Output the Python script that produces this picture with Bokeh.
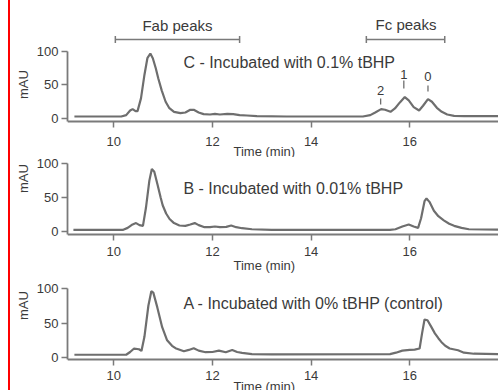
from bokeh.plotting import figure
from bokeh.models import Label, Range1d, FixedTicker, Whisker, TeeHead, Title
from bokeh.layouts import column
from bokeh.embed import file_html
from bokeh.resources import INLINE

# ---------------- data ----------------
x_ticks = [10, 12, 14, 16]
y_ticks = [0, 50, 100]

time_c = [9.2, 10.15, 10.25, 10.33, 10.38, 10.44, 10.48, 10.55, 10.62, 10.68, 10.74, 10.79,
          10.85, 10.90, 10.97, 11.05, 11.12, 11.22, 11.35, 11.45, 11.55, 11.62, 11.72, 11.82,
          11.95, 12.05, 12.15, 12.30, 12.42, 12.55, 12.70, 12.90, 13.5, 14.5, 15.05, 15.2,
          15.3, 15.42, 15.5, 15.61, 15.7, 15.8, 15.9, 15.98, 16.08, 16.19, 16.27, 16.37,
          16.45, 16.55, 16.65, 16.76, 16.9, 17.1, 17.8]
mau_c = [3, 3, 5, 12, 14, 11, 11, 30, 65, 90, 97, 90,
         75, 60, 42, 25, 16, 10, 8, 9, 13, 13, 9, 6.5,
         6, 7, 6, 7, 6.5, 5, 4.5, 3.5, 3, 3, 3, 5,
         9, 14, 13, 10, 15, 24, 32, 27, 17, 12, 19, 29,
         25, 16, 10, 6, 4, 3.5, 3.5]

time_b = [9.18, 10.18, 10.28, 10.38, 10.45, 10.52, 10.59, 10.65, 10.72, 10.77, 10.82, 10.89,
          10.95, 10.99, 11.06, 11.13, 11.22, 11.33, 11.45, 11.55, 11.64, 11.72, 11.84, 11.95,
          12.05, 12.15, 12.28, 12.38, 12.48, 12.6, 12.8, 13.2, 15.6, 15.71, 15.85, 15.98,
          16.08, 16.17, 16.23, 16.3, 16.34, 16.4, 16.49, 16.58, 16.69, 16.8, 16.9, 17.05,
          17.2, 17.8]
mau_b = [3, 3, 6, 11, 13, 10, 9, 35, 75, 92, 88, 68,
         50, 39, 27, 19, 13, 9.5, 9, 11, 13, 10, 7, 7,
         8, 7, 7.5, 9.5, 7, 5.5, 4, 3, 3, 4, 8, 11,
         8, 6, 20, 45, 49, 44, 31, 23, 17, 12, 9, 6,
         4, 3.5]

time_a = [9.2, 10.25, 10.33, 10.41, 10.51, 10.56, 10.62, 10.7, 10.76, 10.8, 10.88, 10.98,
          11.08, 11.18, 11.25, 11.42, 11.52, 11.62, 11.72, 11.86, 12.0, 12.13, 12.27, 12.4,
          12.5, 12.6, 12.8, 13.2, 15.6, 15.72, 15.85, 16.0, 16.1, 16.2, 16.25, 16.3,
          16.36, 16.44, 16.51, 16.58, 16.64, 16.72, 16.81, 16.98, 17.1, 17.3, 17.8]
mau_a = [4, 4, 8, 13, 12, 9.5, 30, 75, 96, 94, 73, 44,
         25, 17, 13.5, 9, 11, 13.5, 10, 7.7, 8, 10, 7.7, 11,
         8, 6.8, 5, 4.5, 5, 7, 10, 11, 11.5, 13, 35, 55,
         54, 44, 35, 28, 22.6, 17, 13, 10.5, 7, 5.5, 5]

panel_titles = ["C - Incubated with 0.1% tBHP",
                "B - Incubated with 0.01% tBHP",
                "A - Incubated with 0% tBHP (control)"]

fab_range = [10.03, 12.55]
fc_range = [15.12, 16.71]
peak_names = ["2", "1", "0"]
peak_times = [15.41, 15.88, 16.37]

# ---------------- styling ----------------
FONT = "Liberation Sans"
TRACE = "#6e6e6e"
AXIS = "#7a7a7a"
TEXT = "#3a3a3a"
W = 488
LEFT = 57
X0, X1 = 9.06, 17.8
TIME_X = 13.05


def make_panel(height, y0, y1, axis_at, times, vals, standoff, mau_offset, time_off):
    p = figure(width=W, height=height, x_range=Range1d(X0, X1), y_range=Range1d(y0, y1),
               output_backend="svg", toolbar_location=None,
               min_border_left=LEFT, min_border_right=0,
               min_border_top=0, min_border_bottom=0)
    p.outline_line_color = None
    p.grid.visible = False
    p.background_fill_color = "white"
    p.border_fill_color = "white"
    p.line(times, vals, line_color=TRACE, line_width=2.2)

    p.xaxis.ticker = FixedTicker(ticks=x_ticks)
    p.yaxis.ticker = FixedTicker(ticks=y_ticks)
    p.xaxis.fixed_location = axis_at
    p.yaxis.bounds = (axis_at, 100)
    for ax in (p.xaxis[0], p.yaxis[0]):
        ax.axis_line_color = AXIS
        ax.axis_line_width = 1.8
        ax.major_tick_line_color = AXIS
        ax.major_tick_line_width = 1.5
        ax.major_tick_out = 6
        ax.major_tick_in = 0
        ax.minor_tick_line_color = None
        ax.major_label_text_font = FONT
        ax.major_label_text_font_size = "13px"
        ax.major_label_text_color = TEXT
    p.xaxis.major_label_standoff = standoff
    p.yaxis.major_label_standoff = 3
    p.add_layout(Title(text="mAU", align="left", offset=mau_offset, standoff=6,
                       text_font=FONT, text_font_size="13px", text_font_style="normal",
                       text_color=TEXT), "left")
    p.add_layout(Label(x=TIME_X, y=axis_at, y_offset=time_off, text="Time (min)",
                       text_font=FONT, text_font_size="13px", text_color=TEXT,
                       text_align="center", text_baseline="middle"))
    return p


def add_text(p, x, y, text, size="16px", align="left"):
    p.add_layout(Label(x=x, y=y, text=text, text_font=FONT, text_font_size=size,
                       text_color=TEXT, text_align=align, text_baseline="middle"))


# panel C
pC = make_panel(157, -58.2, 176.1, -4.48, time_c, mau_c, 9, 58.5, -30)
add_text(pC, 11.41, 84.3, panel_titles[0])
add_text(pC, sum(fab_range) / 2, 138.8, "Fab peaks", size="15px", align="center")
add_text(pC, sum(fc_range) / 2 + 0.01, 140.3, "Fc peaks", size="15px", align="center")
for rng in (fab_range, fc_range):
    pC.add_layout(Whisker(base=118, lower=rng[0], upper=rng[1], dimension="width",
                          line_color=AXIS, line_width=1.5,
                          lower_head=TeeHead(size=7, line_color=AXIS, line_width=1.5),
                          upper_head=TeeHead(size=7, line_color=AXIS, line_width=1.5)))
name_y = [41.8, 65.7, 62.7]
tick_y = [(29.9, 20.9), (56.7, 44.8), (49.3, 40.3)]
for nm, t, ny, (ty0, ty1) in zip(peak_names, peak_times, name_y, tick_y):
    add_text(pC, t, ny, nm, size="13px", align="center")
    pC.segment(x0=[t], y0=[ty0], x1=[t], y1=[ty1], line_color=TRACE, line_width=1.3)

# panel B
pB = make_panel(119, -65.0, 108.76, -3.65, time_b, mau_b, 7, 83.5, -31)
add_text(pB, 11.41, 63.5, panel_titles[1])

# panel A
pA = make_panel(114, -47.8, 117.4, -2.9, time_a, mau_a, 5, 70.5, -27)
add_text(pA, 11.41, 78.3, panel_titles[2])

layout = column(pC, pB, pA, styles={"margin-left": "8px", "border-left": "2px solid #ff0000"})

open("out.html", "w").write(file_html(layout, INLINE))
